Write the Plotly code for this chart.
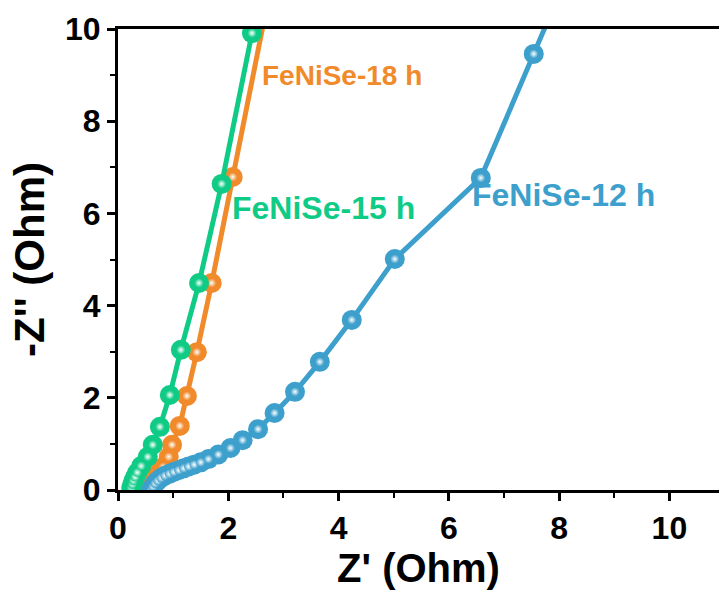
import plotly.graph_objects as go

# Nyquist data, Z' and -Z'' in Ohm
z12_re = [0.60, 0.63, 0.67, 0.72, 0.78, 0.85, 0.93, 1.01, 1.10, 1.19, 1.28, 1.38,
          1.50, 1.64, 1.82, 2.04, 2.26, 2.54, 2.84, 3.21, 3.66, 4.24, 5.02, 6.58,
          7.54, 8.30]
z12_im = [0.00, 0.07, 0.14, 0.20, 0.26, 0.31, 0.35, 0.39, 0.43, 0.47, 0.51, 0.55,
          0.60, 0.67, 0.77, 0.91, 1.08, 1.32, 1.67, 2.13, 2.78, 3.69, 5.01, 6.77,
          9.46, 11.60]

z15_re = [0.24, 0.26, 0.28, 0.31, 0.35, 0.42, 0.54, 0.63, 0.76, 0.94, 1.14, 1.47,
          1.88, 2.43, 2.90]
z15_im = [0.05, 0.12, 0.20, 0.28, 0.38, 0.52, 0.72, 0.98, 1.37, 2.06, 3.04, 4.49,
          6.64, 9.91, 12.50]

z18_re = [0.50, 0.55, 0.62, 0.72, 0.82, 0.92, 0.98, 1.12, 1.25, 1.43, 1.70, 2.08,
          3.20]
z18_im = [0.05, 0.12, 0.22, 0.35, 0.50, 0.72, 0.98, 1.39, 2.04, 2.99, 4.49, 6.79,
          13.50]

labels = ["FeNiSe-12 h", "FeNiSe-15 h", "FeNiSe-18 h"]
label_pos = [(6.38, 6.40), (2.03, 6.12), (2.58, 9.00)]
label_size = [32, 32, 28]

x_ticks = [0, 2, 4, 6, 8, 10]
y_ticks = [0, 2, 4, 6, 8, 10]

colors = {"FeNiSe-12 h": "#3D9FCC", "FeNiSe-15 h": "#0FCB86", "FeNiSe-18 h": "#F08A2A"}
FONT = "Liberation Sans, Arial, sans-serif"

fig = go.Figure()

series = [("FeNiSe-18 h", z18_re, z18_im),
          ("FeNiSe-12 h", z12_re, z12_im),
          ("FeNiSe-15 h", z15_re, z15_im)]

for name, xs, ys in series:
    c = colors[name]
    fig.add_trace(go.Scatter(
        x=xs, y=ys, mode="lines+markers", name=name,
        line=dict(color=c, width=5),
        marker=dict(size=20, color=c, line=dict(width=0)),
        showlegend=False,
    ))
    # glossy highlight on each ball
    fig.add_trace(go.Scatter(
        x=xs, y=ys, mode="markers",
        marker=dict(size=9, color=c, line=dict(width=0),
                    gradient=dict(type="radial", color="#FFFFFF")),
        showlegend=False, hoverinfo="skip",
    ))

for name, (lx, ly), fs in zip(labels, label_pos, label_size):
    fig.add_annotation(
        x=lx, y=ly, xref="x", yref="y", text=name, showarrow=False,
        xanchor="left", yanchor="middle",
        font=dict(family=FONT, size=fs, color=colors[name], weight="bold"),
    )

axis_common = dict(
    showgrid=False, zeroline=False,
    showline=True, linecolor="black", linewidth=3,
    ticks="outside", ticklen=8, tickwidth=3, tickcolor="black",
    tickfont=dict(family=FONT, size=32, color="black", weight="bold"),
    minor=dict(ticks="outside", ticklen=5, tickwidth=2, tickcolor="black", dtick=1),
)

fig.update_xaxes(
    range=[0, 10.9], tickvals=x_ticks, mirror=True,
    title=dict(text="Z' (Ohm)", standoff=8,
               font=dict(family=FONT, size=40, color="black", weight="bold")),
    **axis_common,
)
fig.update_yaxes(
    range=[0, 10], tickvals=y_ticks,
    title=dict(text="-Z'' (Ohm)", standoff=8,
               font=dict(family=FONT, size=42, color="black", weight="bold")),
    **axis_common,
)

fig.update_layout(
    width=719, height=590,
    margin=dict(l=118, r=0, t=29, b=100),
    plot_bgcolor="white", paper_bgcolor="white",
)

fig.write_html("out.html")
